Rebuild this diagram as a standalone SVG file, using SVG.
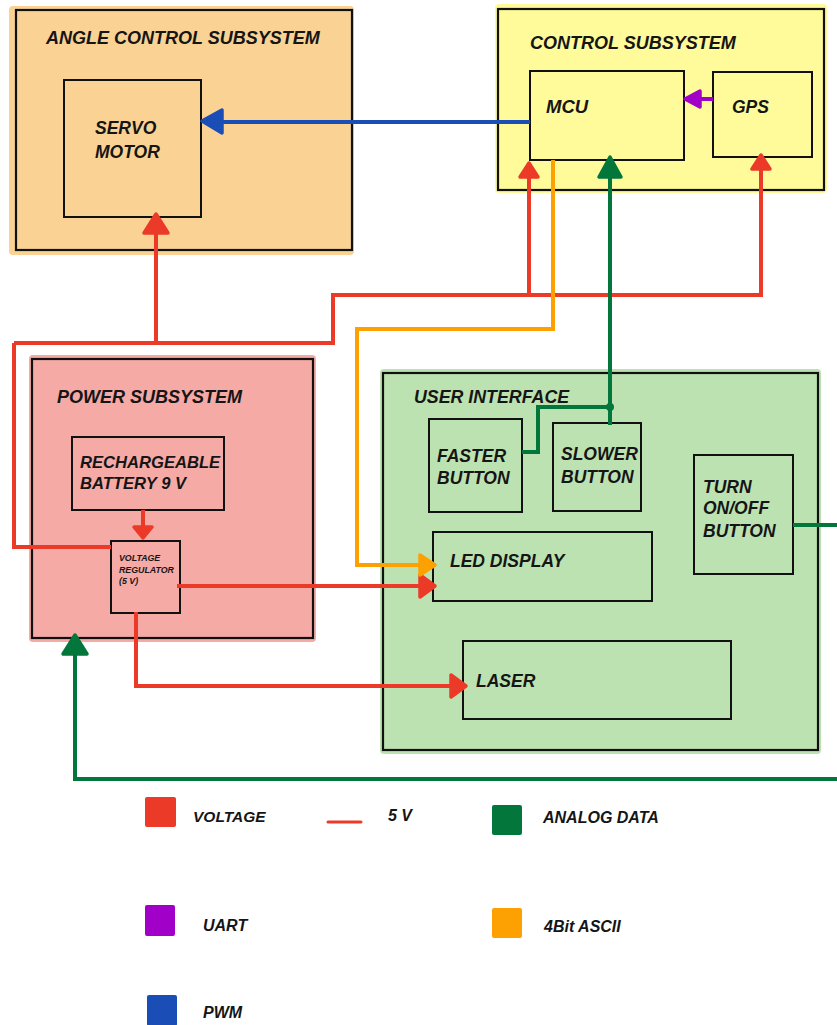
<svg xmlns="http://www.w3.org/2000/svg" width="837" height="1025" viewBox="0 0 837 1025">
<style>
text{font-family:"Liberation Sans",Arial,sans-serif;font-weight:bold;font-style:italic;fill:#151515}
.t{font-size:18px}
.n{font-size:17.5px}
.lg{font-size:16px}
.sm{font-size:8.8px}
.bd{fill:none;stroke:#111;stroke-width:2.2}
.bx{fill:none;stroke:#111;stroke-width:2}
.w{fill:none;stroke-width:4;stroke-linejoin:miter}
.red{stroke:#EC3A28}
.grn{stroke:#02763B}
.org{stroke:#FDA102}
.blu{stroke:#1B4DB6}
.pur{stroke:#A100C9}
.ah{stroke-width:3.5;stroke-linejoin:round}
.ared{fill:#EC3A28;stroke:#EC3A28}
.agrn{fill:#02763B;stroke:#02763B}
.ablu{fill:#1B4DB6;stroke:#1B4DB6}
.apur{fill:#A100C9;stroke:#A100C9}
.aorg{fill:#FDA102;stroke:#FDA102}
</style>

<g id="angle-control">
<rect x="9" y="6" width="345" height="249" rx="4" fill="#FAD394"/>
<rect class="bd" x="16" y="10" width="336" height="240"/>
<text class="t" x="46" y="44">ANGLE CONTROL SUBSYSTEM</text>
</g>
<g id="servo-motor">
<rect class="bx" x="64" y="80" width="137" height="137"/>
<text class="n" x="95" y="134">SERVO</text>
<text class="n" x="95" y="158">MOTOR</text>
</g>

<g id="control">
<rect x="495" y="4" width="332" height="189" rx="4" fill="#FFFB9A"/>
<rect class="bd" x="498" y="9" width="326" height="181"/>
<text class="t" x="530" y="49">CONTROL SUBSYSTEM</text>
</g>
<g id="mcu">
<rect class="bx" x="530" y="71" width="154" height="89"/>
<text class="n" x="546" y="113" style="font-size:18.5px">MCU</text>
</g>
<g id="gps">
<rect class="bx" x="713" y="72" width="99" height="85"/>
<text class="n" x="732" y="113">GPS</text>
</g>

<g id="power">
<rect x="29" y="355" width="287" height="287" rx="4" fill="#F5AAA6"/>
<rect class="bd" x="32" y="359" width="281" height="279"/>
<text class="t" x="57" y="403">POWER SUBSYSTEM</text>
</g>
<g id="battery">
<rect class="bx" x="72" y="437" width="152" height="73"/>
<text class="n" x="80" y="468" style="font-size:16.6px">RECHARGEABLE</text>
<text class="n" x="80" y="489" style="font-size:16.6px">BATTERY 9 V</text>
</g>
<g id="regulator">
<rect class="bx" x="111" y="541" width="69" height="72"/>
<text class="sm" x="119" y="561">VOLTAGE</text>
<text class="sm" x="119" y="573">REGULATOR</text>
<text class="sm" x="119" y="584">(5 V)</text>
</g>

<g id="user-interface">
<rect x="380" y="369" width="441" height="385" rx="4" fill="#BDE2B1"/>
<rect class="bd" x="383" y="373" width="435" height="377"/>
<text class="n" x="414" y="403" style="font-size:17.8px">USER INTERFACE</text>
</g>
<g id="faster">
<rect class="bx" x="429" y="419" width="93" height="93"/>
<text class="n" x="437" y="462">FASTER</text>
<text class="n" x="437" y="484">BUTTON</text>
</g>
<g id="slower">
<rect class="bx" x="553" y="423" width="88" height="88"/>
<text class="n" x="561" y="460">SLOWER</text>
<text class="n" x="561" y="483">BUTTON</text>
</g>
<g id="turn">
<rect class="bx" x="694" y="455" width="99" height="119"/>
<text class="n" x="703" y="493">TURN</text>
<text class="n" x="703" y="514">ON/OFF</text>
<text class="n" x="703" y="537">BUTTON</text>
</g>
<g id="led">
<rect class="bx" x="433" y="532" width="219" height="69"/>
<text class="n" x="450" y="567">LED DISPLAY</text>
</g>
<g id="laser">
<rect class="bx" x="463" y="641" width="268" height="78"/>
<text class="n" x="476" y="687">LASER</text>
</g>

<g id="connectors">
<path class="w blu" d="M530,122 H222"/>
<polygon class="ah ablu" points="202,121 222,110 222,133"/>
<path class="w pur" d="M713,99 H698"/>
<polygon class="ah apur" points="685,99 700,91 700,107"/>
<path class="w red" d="M156,233 V343 M14,343 H333 V295 H761 V168 M529,295 V176 M14,343 V547 H111"/>
<polygon class="ah ared" points="156,214 144,233 168,233"/>
<polygon class="ah ared" points="529,163 520,177 538,177"/>
<polygon class="ah ared" points="761,155 752,169 770,169"/>
<path class="w red" d="M177,586 H420"/>
<polygon class="ah ared" points="435,586 420,575 420,597"/>
<path class="w red" d="M136,612 V686 H452"/>
<polygon class="ah ared" points="466,686 451,675 451,697"/>
<path class="w red" d="M143,510 V528"/>
<polygon class="ah ared" points="143,538 134,527 152,527"/>
<path class="w org" d="M553,160 V329 H357 V565 H420"/>
<polygon class="ah aorg" points="435,565 420,555 420,575"/>
<path class="w grn" d="M610,425 V176"/>
<polygon class="ah agrn" points="610,157 599,177 621,177"/>
<path class="w grn" d="M610,407 H538 V452 H522"/>
<circle cx="610" cy="407" r="4" fill="#02763B"/>
<path class="w grn" d="M793,525 H837"/>
<path class="w grn" d="M837,779 H75 V653"/>
<polygon class="ah agrn" points="75,635 63,654 87,654"/>
</g>

<g id="legend">
<rect x="145" y="797" width="31" height="30" rx="2" fill="#EC3A28"/>
<text class="lg" x="193" y="822" style="font-size:15.5px">VOLTAGE</text>
<line x1="328" y1="822" x2="361" y2="822" stroke="#EC3A28" stroke-width="3" stroke-linecap="round"/>
<text class="lg" x="388" y="821">5 V</text>
<rect x="492" y="805" width="30" height="30" rx="2" fill="#02763B"/>
<text class="lg" x="543" y="823">ANALOG DATA</text>
<rect x="145" y="905" width="30" height="31" rx="2" fill="#A100C9"/>
<text class="lg" x="203" y="931">UART</text>
<rect x="492" y="908" width="30" height="30" rx="2" fill="#FDA102"/>
<text class="lg" x="544" y="932">4Bit ASCII</text>
<rect x="147" y="995" width="30" height="31" rx="2" fill="#1B4DB6"/>
<text class="lg" x="203" y="1018">PWM</text>
</g>
</svg>
